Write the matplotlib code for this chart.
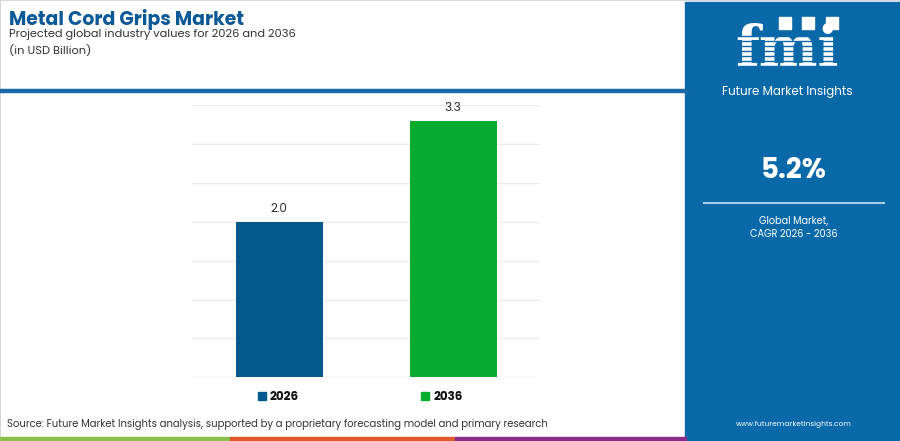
import matplotlib
matplotlib.use("Agg")
import matplotlib.pyplot as plt
from matplotlib.patches import Rectangle
from matplotlib.lines import Line2D

# ---- data ----
categories = ["2026", "2036"]
values = [2.0, 3.3]
value_labels = ["2.0", "3.3"]
bar_colors = ["#03588c", "#08ab2d"]
yticks = [0, 0.5, 1.0, 1.5, 2.0, 2.5, 3.0, 3.5]

title = "Metal Cord Grips Market"
subtitle = "Projected global industry values for 2026 and 2036"
unit = "(in USD Billion)"
source = "Source: Future Market Insights analysis, supported by a proprietary forecasting model and primary research"
cagr = "5.2%"
cagr_label = ["Global Market,", "CAGR 2026 - 2036"]
url = "www.futuremarketinsights.com"

W, H = 900, 441
fig = plt.figure(figsize=(W / 100, H / 100), dpi=100)
fig.patch.set_facecolor("white")

def fx(x):
    return x / W

def fy(y):
    return 1 - y / H

FONT = ["Poppins", "Inter", "DejaVu Sans"]
TITLE_BLUE = "#0b5a97"
PANEL = "#0968a8"

# thin border
fig.patches.append(Rectangle((0, 0), 1, 1, transform=fig.transFigure,
                             fill=False, edgecolor="#d0d0d0", lw=1.2, zorder=0))

# blue rule under header
fig.add_artist(Line2D([0, fx(686)], [fy(91), fy(91)], transform=fig.transFigure,
                      color="#1a6aa8", lw=3.2, zorder=2))

# header texts
fig.text(fx(9), fy(20), title, fontsize=13.6, fontweight="bold", color=TITLE_BLUE,
         family=FONT, va="center", ha="left")
fig.text(fx(9), fy(34.5), subtitle, fontsize=8.2, color="#333333",
         family=FONT, va="center", ha="left")
fig.text(fx(9), fy(51), unit, fontsize=8.2, color="#333333",
         family=FONT, va="center", ha="left")

# ---- main axes ----
ax = fig.add_axes([fx(192), fy(377.3), fx(540) - fx(192), (377.3 - 105) / H])
x = list(range(len(categories)))
bars = ax.bar(x, values, width=0.5, color=bar_colors, zorder=3)
ax.set_xlim(-0.5, len(categories) - 0.5)
ax.set_ylim(0, yticks[-1])
ax.set_yticks(yticks)
ax.yaxis.grid(True, color="#ececec", lw=1.0, zorder=0)
ax.set_axisbelow(True)
ax.tick_params(left=False, bottom=False, labelleft=False, labelbottom=False)
for s in ax.spines.values():
    s.set_visible(False)
for b, lab in zip(bars, value_labels):
    ax.annotate(lab, (b.get_x() + b.get_width() / 2, b.get_height()),
                xytext=(0, 5), textcoords="offset points", ha="center", va="bottom",
                fontsize=8.6, color="#333333", family=FONT)

# legend
handles = [Rectangle((0, 0), 1, 1, color=c) for c in bar_colors]
leg = fig.legend(handles, categories, loc="center", bbox_to_anchor=(fx(360), fy(397)),
                 ncol=len(categories), frameon=False, handlelength=0.68, handleheight=0.68,
                 handletextpad=0.35, columnspacing=10.2,
                 prop={"family": FONT, "weight": "bold", "size": 8.6})
for t in leg.get_texts():
    t.set_color("#111111")

# source
fig.text(fx(7), fy(425), source, fontsize=7.25, color="#333333", family=FONT,
         va="center", ha="left")

# bottom colour strip
for x0, x1, c in [(0, 230, "#8cc04b"), (230, 455, "#e3582b"), (455, 686, "#8a2c8c")]:
    fig.patches.append(Rectangle((fx(x0), 0), fx(x1) - fx(x0), 4 / H,
                                 transform=fig.transFigure, color=c, zorder=2))

# ---- right panel ----
fig.patches.append(Rectangle((fx(685), fy(440)), fx(900) - fx(685), (440 - 2) / H,
                             transform=fig.transFigure, color=PANEL, zorder=1))
cx = fx(787)
# logo
fig.text(cx, fy(50), "fmi", fontsize=40, fontweight="bold", color="white",
         family=["DejaVu Serif"], ha="center", va="center", zorder=3)
for yy in range(36, 80, 5):
    fig.add_artist(Line2D([fx(720), fx(860)], [fy(yy), fy(yy)], transform=fig.transFigure,
                          color=PANEL, lw=1.0, zorder=4))
for xc in [785, 808, 832]:
    fig.patches.append(Rectangle((fx(xc - 6), fy(29)), 12 / W, 12 / H,
                                 transform=fig.transFigure, color="white", zorder=5))
fig.text(cx, fy(92), "Future Market Insights", fontsize=8.6, color="white",
         family=FONT, ha="center", va="center", zorder=3)

cx2 = fx(794)
fig.text(cx2, fy(171), cagr, fontsize=20, fontweight="bold", color="white",
         family=FONT, ha="center", va="center", zorder=3)
fig.add_artist(Line2D([fx(704), fx(884)], [fy(203), fy(203)], transform=fig.transFigure,
                      color="#a9cbe6", lw=1.5, zorder=3))
fig.text(cx2, fy(222), cagr_label[0], fontsize=7, color="white", family=FONT,
         ha="center", va="center", zorder=3)
fig.text(cx2, fy(234), cagr_label[1], fontsize=7, color="white", family=FONT,
         ha="center", va="center", zorder=3)
fig.text(cx2, fy(425), url, fontsize=5.3, color="white", family=FONT,
         ha="center", va="center", zorder=3)

fig.savefig("out.png", dpi=100, facecolor="white")
